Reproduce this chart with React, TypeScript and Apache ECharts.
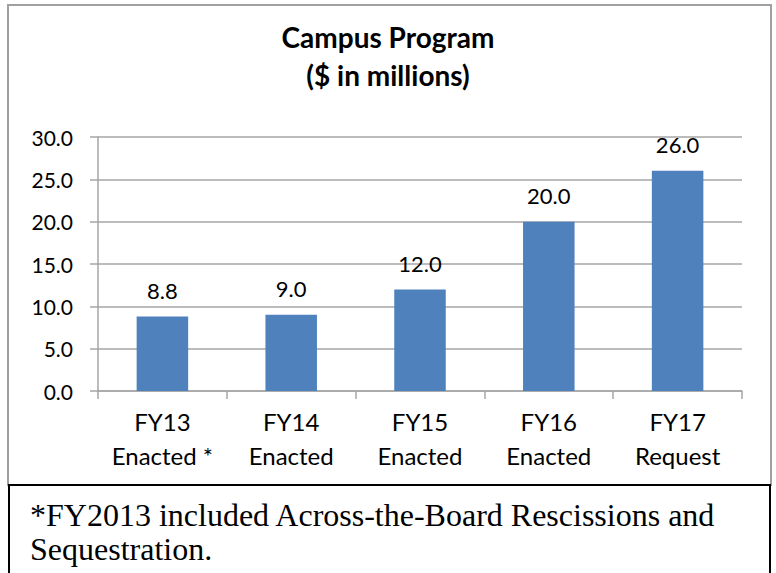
import React, { useEffect, useRef } from "react";
import * as echarts from "echarts";

const categories = ["FY13\nEnacted *", "FY14\nEnacted", "FY15\nEnacted", "FY16\nEnacted", "FY17\nRequest"];
const values = [8.8, 9.0, 12.0, 20.0, 26.0];
const titleLines = ["Campus Program", "($ in millions)"];
const footnote = "*FY2013 included Across-the-Board Rescissions and\nSequestration.";

export default function App() {
  const ref = useRef<HTMLDivElement>(null);
  useEffect(() => {
    document.body.style.margin = "0";
    const chart = echarts.init(ref.current!, null, { renderer: "svg" });
    chart.setOption({
      animation: false,
      backgroundColor: "#ffffff",
      title: {
        text: titleLines.join("\n"),
        left: "center",
        top: 13,
        textStyle: {
          fontFamily: "Lato",
          fontWeight: "bold",
          fontSize: 28,
          lineHeight: 38,
          color: "#000",
        },
      },
      grid: { left: 98, right: 34, top: 137, bottom: 182 },
      xAxis: {
        type: "category",
        data: categories,
        axisLine: { lineStyle: { color: "#a6a6a6", width: 1.5 } },
        axisTick: { show: true, length: 8, lineStyle: { color: "#a6a6a6", width: 1.5 } },
        axisLabel: {
          interval: 0,
          fontFamily: "Lato",
          fontSize: 24,
          lineHeight: 34,
          color: "#000",
          margin: 13,
        },
      },
      yAxis: {
        type: "value",
        min: 0,
        max: 30,
        interval: 5,
        axisLine: { show: true, lineStyle: { color: "#a6a6a6", width: 1.5 } },
        axisTick: { show: true, length: 8, lineStyle: { color: "#a6a6a6", width: 1.5 } },
        splitLine: { lineStyle: { color: "#a6a6a6", width: 1.5 } },
        axisLabel: {
          fontFamily: "Lato",
          fontSize: 21,
          color: "#000",
          margin: 25,
          formatter: (v: number) => v.toFixed(1),
        },
      },
      series: [
        {
          type: "bar",
          data: values,
          barWidth: "40%",
          itemStyle: { color: "#4f81bd" },
          label: {
            show: true,
            position: "top",
            distance: 15,
            fontFamily: "Lato",
            fontSize: 22,
            color: "#000",
            formatter: (p: any) => Number(p.value).toFixed(1),
          },
        },
      ],
      graphic: [
        {
          type: "rect",
          shape: { x: 8, y: 5, width: 763, height: 480 },
          style: { fill: "none", stroke: "#a0a0a0", lineWidth: 2 },
          silent: true,
        },
        {
          type: "rect",
          shape: { x: 9, y: 485, width: 761, height: 100 },
          style: { fill: "#fff", stroke: "#000", lineWidth: 2 },
          silent: true,
        },
        {
          type: "text",
          x: 30,
          y: 498,
          style: {
            text: footnote,
            fontFamily: "Liberation Serif",
            fontSize: 32,
            lineHeight: 34,
            fill: "#000",
          },
        },
      ],
    });
    return () => chart.dispose();
  }, []);
  return <div ref={ref} style={{ position: "absolute", left: 0, top: 0, width: 776, height: 573 }} />;
}
